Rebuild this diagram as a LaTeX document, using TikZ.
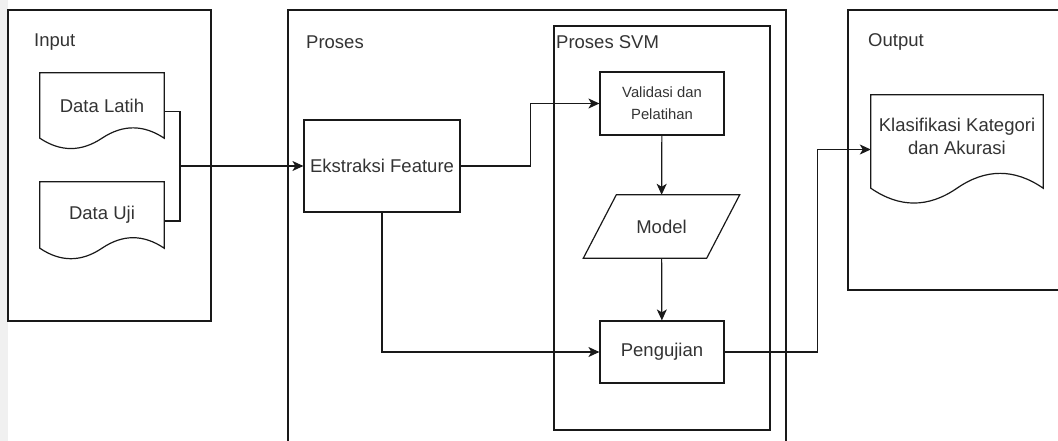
\documentclass[tikz,border=0pt]{standalone}
\usepackage{fontspec}
\setmainfont{Liberation Sans}
\usetikzlibrary{arrows.meta,calc}

% outline of a document shape (wavy bottom) round a node
\newcommand{\wavydoc}[2]{%
\draw[outline] (#1.south east) -- (#1.north east) -- (#1.north west) -- (#1.south west)
  .. controls ($(#1.south west)!0.3333!(#1.south)+(0pt,-#2)$) and ($(#1.south west)!0.6667!(#1.south)+(0pt,-#2)$) .. (#1.south)
  .. controls ($(#1.south)!0.3333!(#1.south east)+(0pt,#2)$) and ($(#1.south)!0.6667!(#1.south east)+(0pt,#2)$) .. (#1.south east) -- cycle;}

% outline of a parallelogram round a node
\newcommand{\slantbox}[2]{%
\draw[outline] ([xshift=-#2]#1.south west) -- ([xshift=#2]#1.north west)
  -- ([xshift=#2]#1.north east) -- ([xshift=-#2]#1.south east) -- cycle;}

\begin{document}
\begin{tikzpicture}[x=1pt,y=-1pt,
  every node/.style={text=black!80,font=\fontsize{18.5}{23}\selectfont},
  outline/.style={draw=black!90,line width=1.2pt},
  group/.style={outline,minimum width=#1,inner sep=0},
  grouplabel/.style={anchor=west,inner sep=0},
  box/.style={outline,inner sep=0,minimum width=124pt},
  doc/.style={inner sep=0,minimum width=124pt},
  arr/.style={outline,-{Stealth[length=11pt,width=10pt,inset=3pt]}}]
\clip (0,0) rectangle (1058,441);
\fill[gray!12] (0,0) rectangle (8,441);

% the three groups
\node[group=203pt,minimum height=311pt] (inputbox) at (109.5,165.5) {};
\node[group=498pt,minimum height=470pt] (prosesbox) at (537,245) {};
\node[group=216pt,minimum height=404pt] (svmbox) at (662,228) {};
\node[group=222pt,minimum height=280pt] (outputbox) at (959,150) {};

\node[grouplabel] (inputlbl) at (34,42) {Input};
\node[grouplabel] (proseslbl) at (306,42) {Proses};
\node[grouplabel] (svmlbl) at (556,42) {Proses SVM};
\node[grouplabel] (outputlbl) at (868,42) {Output};

% input documents
\node[doc,minimum height=65pt] (latih) at (102,105.5) {Data Latih};
\node[doc,minimum height=66pt] (uji) at (102,215) {Data Uji};
\wavydoc{latih}{13.8pt}
\wavydoc{uji}{14pt}

% process steps
\node[box,minimum width=156pt,minimum height=92pt] (ekstraksi) at (382,166) {Ekstraksi Feature};
\node[box,minimum height=63pt,align=center,font=\fontsize{14.8}{22}\selectfont] (validasi) at (662,103.5) {Validasi dan\\Pelatihan};
\node[inner sep=0,minimum width=123pt,minimum height=63pt] (model) at (661.5,226.5) {Model};
\slantbox{model}{16.5pt}
\node[box,minimum height=62pt] (pengujian) at (662,352) {Pengujian};

% output document
\node[doc,minimum width=172pt,minimum height=93pt,align=center,text depth=10pt] (klasifikasi) at (957,141.5) {Klasifikasi Kategori\\dan Akurasi};
\wavydoc{klasifikasi}{19.8pt}

% connectors
\coordinate (bus) at (180,166);
\draw[outline] ([yshift=-6pt]latih.east) -| (bus) |- ([yshift=-6pt]uji.east);
\draw[arr] (bus) -- (ekstraksi.west);
\draw[arr] (ekstraksi.east) -- ++(70,0) |- (validasi.west);
\draw[arr] (ekstraksi.south) |- (pengujian.west);
\draw[arr] (validasi) -- (model);
\draw[arr] (model) -- (pengujian);
\draw[arr] (pengujian.east) -- ++(93,0) |- ([yshift=-8pt]klasifikasi.west);

\end{tikzpicture}
\end{document}
